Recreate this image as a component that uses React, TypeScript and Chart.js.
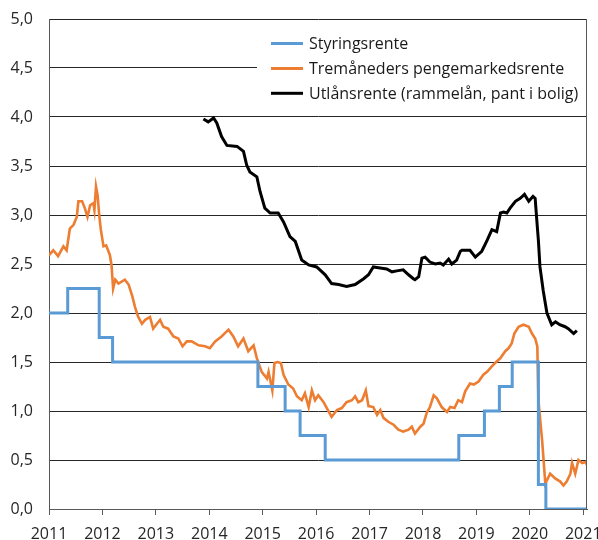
import React, { useEffect, useRef } from 'react';
import { Chart, registerables } from 'chart.js';

Chart.register(...registerables);

const yearTicks = [2011, 2012, 2013, 2014, 2015, 2016, 2017, 2018, 2019, 2020, 2021];
const xMin = 2011;
const xMax = 2021.07;
const yMin = 0;
const yMax = 5;
const yStep = 0.5;

const seriesLabels = [
  'Styringsrente',
  'Tremåneders pengemarkedsrente',
  'Utlånsrente (rammelån, pant i bolig)',
];

const policyDates = [2011.0, 2011.35, 2011.94, 2012.19, 2014.91, 2015.42, 2015.70, 2016.17, 2018.67, 2019.15, 2019.43, 2019.67, 2020.16, 2020.30, 2021.07];
const policyRates = [2.0, 2.25, 1.75, 1.5, 1.25, 1.0, 0.75, 0.5, 0.75, 1.0, 1.25, 1.5, 0.25, 0, 0];

const niborDates = [
  2011.00, 2011.08, 2011.17, 2011.27, 2011.33, 2011.39, 2011.46, 2011.52, 2011.55, 2011.62,
  2011.67, 2011.72, 2011.77, 2011.83, 2011.85, 2011.88, 2011.91, 2011.94, 2011.97, 2012.02,
  2012.07, 2012.14, 2012.17, 2012.20, 2012.24, 2012.30, 2012.42, 2012.49, 2012.56, 2012.61,
  2012.67, 2012.74, 2012.80, 2012.89, 2012.95, 2013.02, 2013.08, 2013.14, 2013.23, 2013.33,
  2013.42, 2013.50, 2013.58, 2013.67, 2013.80, 2013.92, 2014.01, 2014.11, 2014.23, 2014.36,
  2014.45, 2014.54, 2014.64, 2014.73, 2014.83, 2014.89, 2014.98, 2015.08, 2015.11, 2015.18,
  2015.22, 2015.28, 2015.34, 2015.39, 2015.48, 2015.57, 2015.64, 2015.73, 2015.79, 2015.86,
  2015.92, 2015.98, 2016.04, 2016.14, 2016.20, 2016.29, 2016.39, 2016.48, 2016.57, 2016.67,
  2016.73, 2016.79, 2016.86, 2016.93, 2016.98, 2017.07, 2017.14, 2017.20, 2017.26, 2017.35,
  2017.45, 2017.54, 2017.63, 2017.73, 2017.79, 2017.85, 2017.95, 2018.01, 2018.07, 2018.13,
  2018.20, 2018.26, 2018.35, 2018.45, 2018.51, 2018.59, 2018.66, 2018.73, 2018.79, 2018.88,
  2018.95, 2019.04, 2019.13, 2019.20, 2019.28, 2019.35, 2019.45, 2019.54, 2019.60, 2019.66,
  2019.71, 2019.79, 2019.88, 2019.98, 2020.04, 2020.10, 2020.14, 2020.16, 2020.23, 2020.29,
  2020.38, 2020.48, 2020.57, 2020.63, 2020.69, 2020.76, 2020.79, 2020.85, 2020.91, 2020.98,
  2021.04, 2021.07,
];
const niborRates = [
  2.59, 2.64, 2.58, 2.68, 2.64, 2.86, 2.90, 2.98, 3.14, 3.14,
  3.07, 2.98, 3.10, 3.12, 3.05, 3.29, 3.20, 3.00, 2.85, 2.68,
  2.69, 2.59, 2.49, 2.25, 2.34, 2.30, 2.34, 2.29, 2.17, 2.06,
  1.96, 1.89, 1.93, 1.96, 1.84, 1.89, 1.93, 1.86, 1.84, 1.76,
  1.74, 1.66, 1.71, 1.71, 1.67, 1.66, 1.64, 1.71, 1.76, 1.83,
  1.76, 1.66, 1.74, 1.61, 1.67, 1.54, 1.40, 1.33, 1.40, 1.21,
  1.49, 1.50, 1.49, 1.37, 1.27, 1.23, 1.15, 1.11, 1.18, 1.04,
  1.21, 1.11, 1.16, 1.09, 1.03, 0.94, 1.01, 1.03, 1.09, 1.11,
  1.15, 1.09, 1.11, 1.21, 1.05, 1.04, 0.96, 1.01, 0.93, 0.89,
  0.86, 0.81, 0.79, 0.81, 0.84, 0.77, 0.84, 0.87, 0.98, 1.04,
  1.16, 1.13, 1.04, 0.99, 1.04, 1.03, 1.11, 1.09, 1.20, 1.28,
  1.27, 1.30, 1.37, 1.40, 1.45, 1.49, 1.54, 1.61, 1.64, 1.69,
  1.79, 1.86, 1.88, 1.86, 1.79, 1.74, 1.66, 1.11, 0.70, 0.26,
  0.36, 0.31, 0.28, 0.24, 0.28, 0.36, 0.47, 0.36, 0.50, 0.47,
  0.48, 0.45,
];

const lendingDates = [
  2013.89, 2013.98, 2014.08, 2014.14, 2014.23, 2014.33, 2014.52, 2014.64, 2014.70, 2014.76,
  2014.89, 2014.95, 2015.04, 2015.14, 2015.29, 2015.39, 2015.51, 2015.61, 2015.73, 2015.86,
  2016.01, 2016.17, 2016.29, 2016.42, 2016.57, 2016.73, 2016.89, 2016.98, 2017.07, 2017.20,
  2017.32, 2017.42, 2017.51, 2017.63, 2017.73, 2017.82, 2017.85, 2017.92, 2017.98, 2018.04,
  2018.13, 2018.23, 2018.32, 2018.38, 2018.48, 2018.54, 2018.63, 2018.70, 2018.73, 2018.88,
  2018.98, 2019.10, 2019.20, 2019.29, 2019.38, 2019.45, 2019.51, 2019.57, 2019.63, 2019.73,
  2019.82, 2019.90, 2019.98, 2020.06, 2020.10, 2020.13, 2020.16, 2020.19, 2020.25, 2020.32,
  2020.41, 2020.48, 2020.56, 2020.66, 2020.72, 2020.82, 2020.88,
];
const lendingRates = [
  3.98, 3.95, 3.99, 3.94, 3.80, 3.71, 3.70, 3.65, 3.51, 3.44,
  3.39, 3.24, 3.07, 3.02, 3.02, 2.93, 2.78, 2.73, 2.54, 2.49,
  2.47, 2.39, 2.30, 2.29, 2.27, 2.29, 2.35, 2.39, 2.47, 2.46,
  2.45, 2.42, 2.43, 2.44, 2.39, 2.35, 2.34, 2.37, 2.56, 2.57,
  2.52, 2.50, 2.51, 2.49, 2.55, 2.50, 2.54, 2.63, 2.64, 2.64,
  2.57, 2.63, 2.74, 2.85, 2.83, 3.02, 3.03, 3.02, 3.07, 3.14,
  3.17, 3.21, 3.14, 3.19, 3.17, 2.95, 2.74, 2.47, 2.23, 2.00,
  1.88, 1.91, 1.88, 1.86, 1.84, 1.79, 1.82,
];

const seriesColors = ['#5b9bd5', '#ed7d31', '#000000'];

const toPoints = (xs: number[], ys: number[]) => xs.map((x, i) => ({ x, y: ys[i] }));

const FONT = '"Open Sans", "DejaVu Sans", sans-serif';

const frameAndLegend = {
  id: 'frameAndLegend',
  afterDatasetsDraw(chart: any) {
    const { ctx, chartArea: a } = chart;
    ctx.save();
    // legend box (white, inside the plot)
    const boxLeft = 257;
    ctx.fillStyle = '#ffffff';
    ctx.fillRect(boxLeft, a.top + 5, a.right - boxLeft, 88);
    const markerY = [43.5, 68.5, 93.3];
    ctx.font = `16px ${FONT}`;
    ctx.textBaseline = 'middle';
    ctx.textAlign = 'left';
    chart.data.datasets.forEach((ds: any, i: number) => {
      ctx.strokeStyle = ds.borderColor;
      ctx.lineWidth = 3;
      ctx.beginPath();
      ctx.moveTo(271, markerY[i]);
      ctx.lineTo(303, markerY[i]);
      ctx.stroke();
      ctx.fillStyle = '#1a1a1a';
      ctx.fillText(ds.label, 309, markerY[i] + 1);
    });
    // right frame line
    ctx.strokeStyle = '#595959';
    ctx.lineWidth = 1;
    ctx.beginPath();
    ctx.moveTo(a.right - 0.5, a.top);
    ctx.lineTo(a.right - 0.5, a.bottom);
    ctx.stroke();
    ctx.restore();
  },
};

export default function App() {
  const canvasRef = useRef<HTMLCanvasElement | null>(null);

  useEffect(() => {
    const canvas = canvasRef.current;
    if (!canvas) return;
    const chart = new Chart(canvas, {
      type: 'line',
      data: {
        datasets: [
          {
            label: seriesLabels[0],
            data: toPoints(policyDates, policyRates),
            borderColor: seriesColors[0],
            backgroundColor: seriesColors[0],
            borderWidth: 3,
            stepped: 'before',
            pointRadius: 0,
            fill: false,
          },
          {
            label: seriesLabels[1],
            data: toPoints(niborDates, niborRates),
            borderColor: seriesColors[1],
            backgroundColor: seriesColors[1],
            borderWidth: 2.6,
            pointRadius: 0,
            tension: 0,
            fill: false,
          },
          {
            label: seriesLabels[2],
            data: toPoints(lendingDates, lendingRates),
            borderColor: seriesColors[2],
            backgroundColor: seriesColors[2],
            borderWidth: 3,
            pointRadius: 0,
            tension: 0,
            fill: false,
          },
        ],
      },
      options: {
        responsive: false,
        animation: false,
        devicePixelRatio: 1,
        layout: { padding: { top: 19, right: 11, left: 0, bottom: 0 } },
        plugins: {
          legend: { display: false },
          tooltip: { enabled: false },
          title: { display: false },
        },
        scales: {
          x: {
            type: 'linear',
            min: xMin,
            max: xMax,
            afterBuildTicks: (axis: any) => {
              axis.ticks = yearTicks.map((v) => ({ value: v }));
            },
            afterFit: (scale: any) => {
              scale.height = 31;
              scale.paddingLeft = 0;
              scale.paddingRight = 0;
            },
            grid: {
              drawOnChartArea: false,
              drawTicks: true,
              tickLength: 6,
              color: '#595959',
            },
            border: { color: '#595959', width: 1 },
            ticks: {
              autoSkip: false,
              maxRotation: 0,
              padding: 10,
              color: '#262626',
              font: { family: FONT, size: 16 },
              callback: (v: any) => String(v),
            },
          },
          y: {
            min: yMin,
            max: yMax,
            afterFit: (scale: any) => {
              scale.width = 49;
              scale.paddingTop = 0;
              scale.paddingBottom = 0;
            },
            grid: {
              drawTicks: false,
              color: '#262626',
              lineWidth: 1,
            },
            border: { color: '#595959', width: 1 },
            ticks: {
              stepSize: yStep,
              padding: 16,
              color: '#262626',
              font: { family: FONT, size: 16 },
              callback: (v: any) => Number(v).toFixed(1).replace('.', ','),
            },
          },
        },
      },
      plugins: [frameAndLegend],
    });
    return () => chart.destroy();
  }, []);

  return (
    <div style={{ position: 'fixed', left: 0, top: 0, width: 598, height: 540, background: '#fff' }}>
      <canvas ref={canvasRef} width={598} height={540} style={{ display: 'block', width: 598, height: 540 }} />
    </div>
  );
}
